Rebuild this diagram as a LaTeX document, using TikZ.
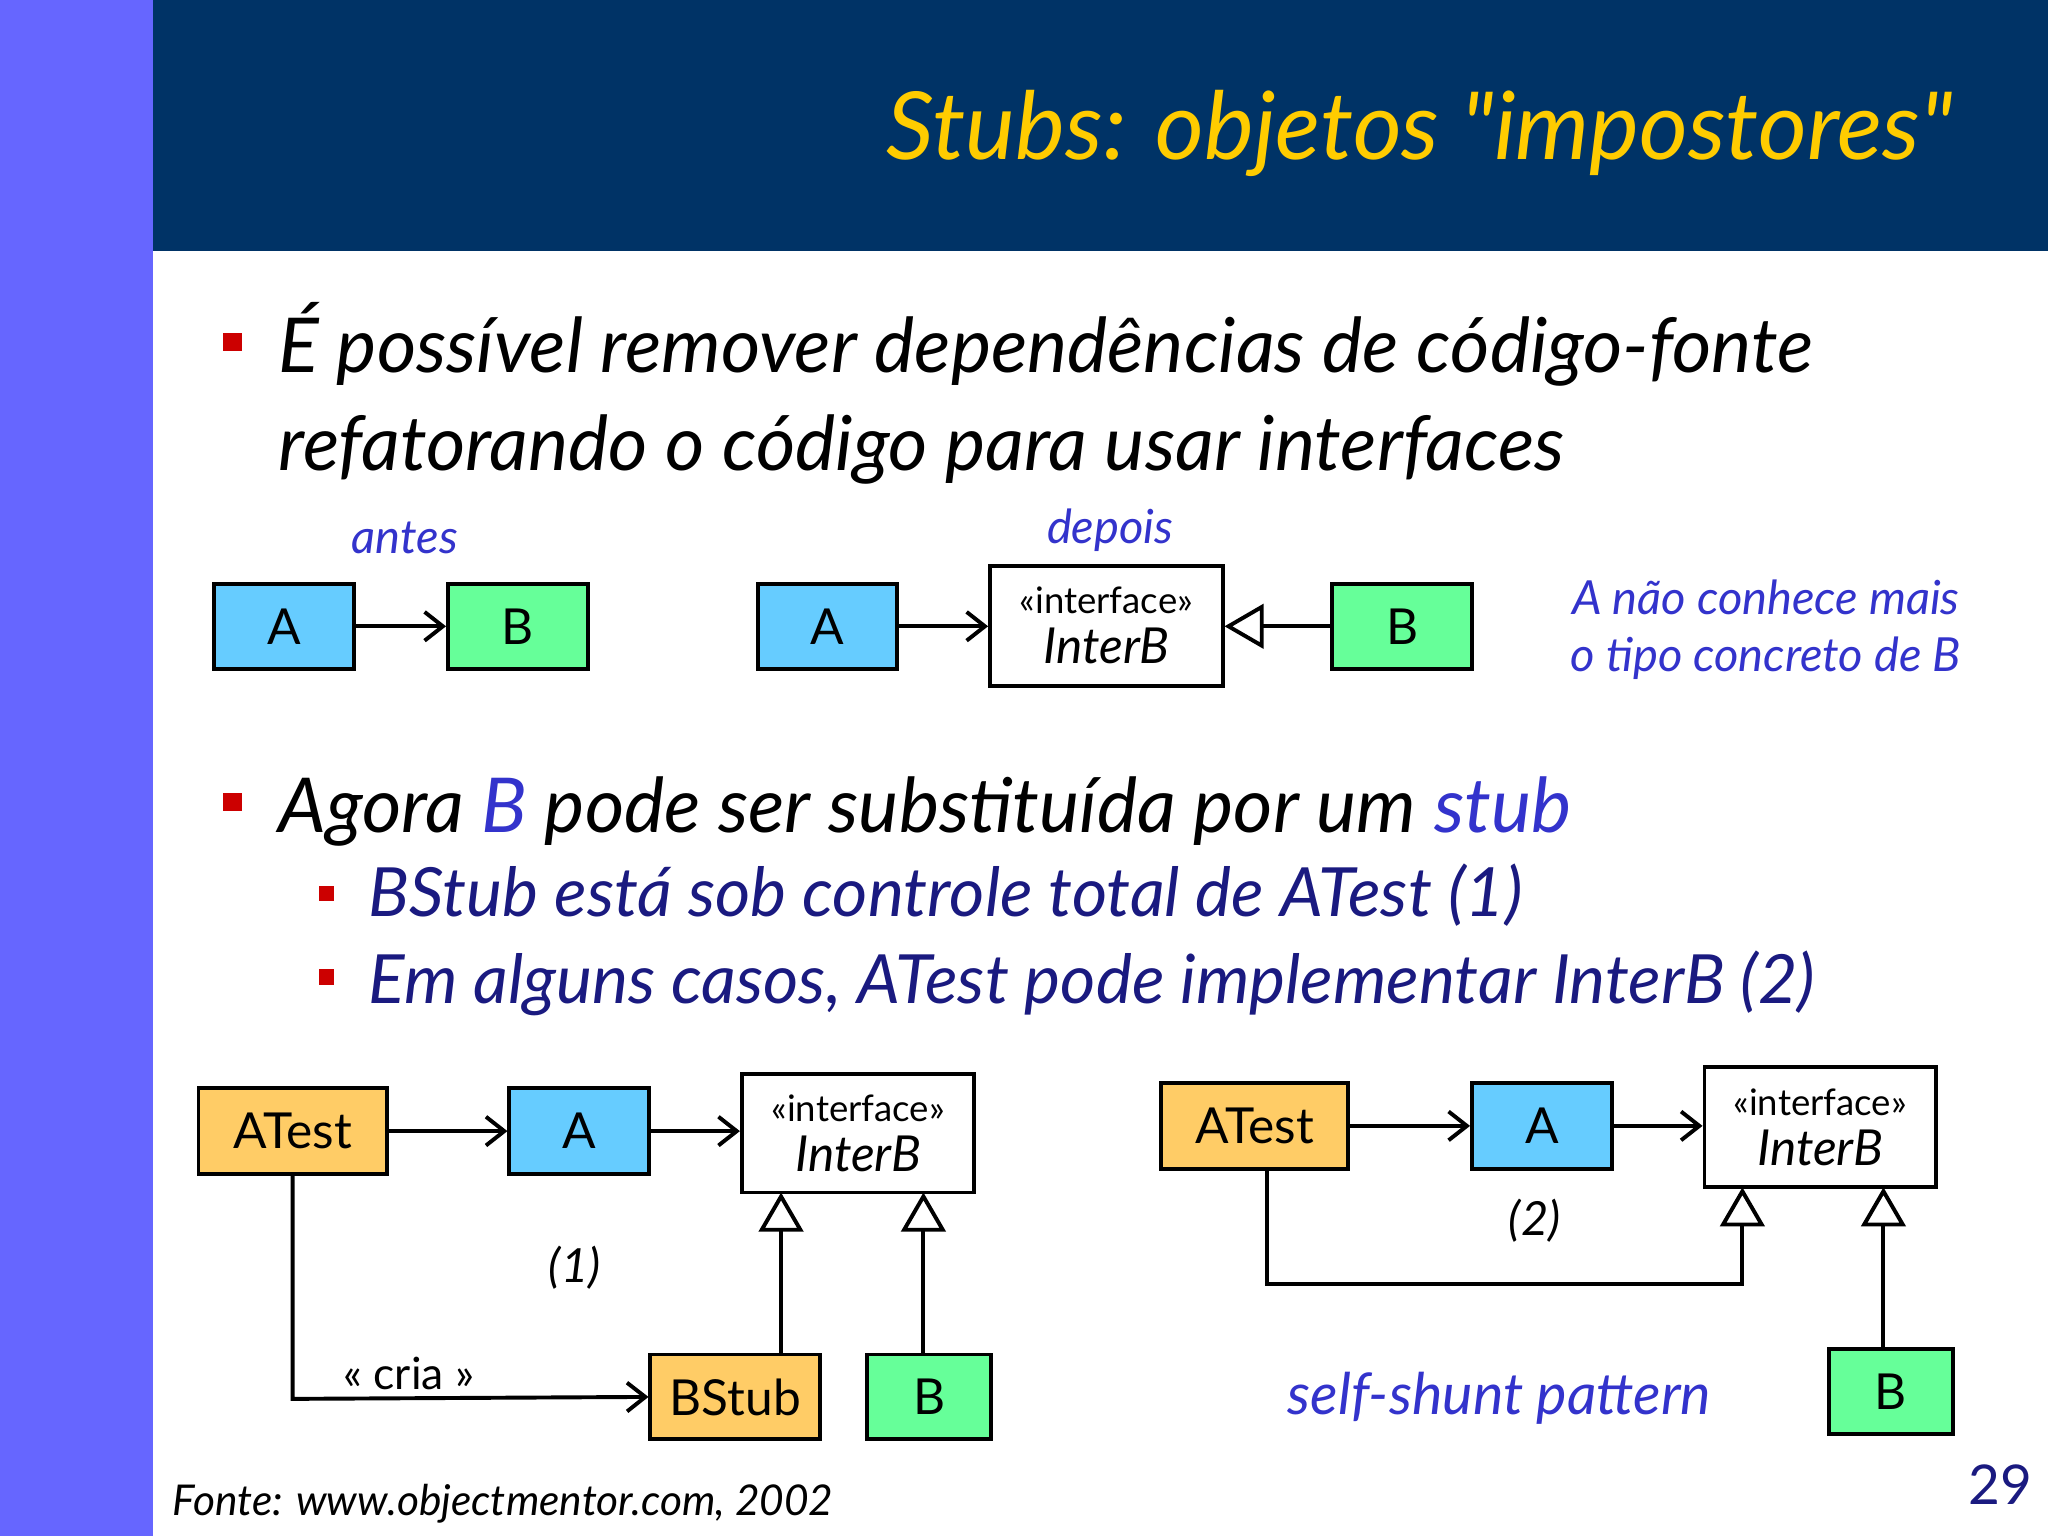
\documentclass[tikz,border=0pt]{standalone}
\usepackage{fontspec}
\setmainfont{Lato}
\usetikzlibrary{arrows.meta}
\definecolor{hdr}{HTML}{003366}
\definecolor{band}{HTML}{6666FF}
\definecolor{ttl}{HTML}{FFCC00}
\definecolor{lblue}{HTML}{3333CC}
\definecolor{dblue}{HTML}{1A1A80}
\definecolor{cA}{HTML}{66CCFF}
\definecolor{cB}{HTML}{66FF99}
\definecolor{cT}{HTML}{FFCC66}
\definecolor{bred}{HTML}{CC0000}
\begin{document}
\begin{tikzpicture}[x=1pt,y=-1pt,
  box/.style={draw=black,line width=3pt,inner sep=0pt,font=\fontsize{38}{40}\selectfont},
  ifc/.style={box,fill=white,align=center,font=\fontsize{28}{30}\selectfont},
  conn/.style={line width=3pt,-{Straight Barb[length=14pt,width=22pt,line width=3pt]}},
  real/.style={line width=3pt,-{Triangle[open,length=30pt,width=34pt,line width=3pt,fill=white]}},
  bul/.style={fill=bred,minimum size=14pt,inner sep=0pt},
  bt/.style={anchor=base west,inner sep=0pt,font=\fontsize{58}{60}\selectfont\itshape},
  st/.style={anchor=base west,inner sep=0pt,text=dblue,font=\fontsize{52}{56}\selectfont\itshape},
  note/.style={text=lblue,inner sep=0pt,font=\fontsize{36}{40}\selectfont\itshape}]
\useasboundingbox (0,0) rectangle (1568,1176);
\fill[white] (0,0) rectangle (1568,1176);
\fill[band] (0,0) rectangle (117,1176);
\fill[hdr] (117,0) rectangle (1568,192);
\node[anchor=base east,inner sep=0pt,text=ttl,font=\fontsize{72}{80}\selectfont\itshape] (title) at (1495,122) {Stubs: objetos \textquotedbl impostores\textquotedbl};
% bullet 1
\node[bul] (b1) at (178,262) {};
\node[bt] (t1) at (213,285) {É possível remover dependências de código-fonte};
\node[bt] (t1b) at (213,360) {refatorando o código para usar interfaces};
% antes
\node[note,anchor=base] (antes) at (310,424) {antes};
\node[box,fill=cA,minimum width=107pt,minimum height=65pt] (a1) at (217.5,479.5) {A};
\node[box,fill=cB,minimum width=107pt,minimum height=65pt] (b1b) at (396.5,479.5) {B};
\draw[conn] (a1) -- (b1b);
% depois
\node[note,anchor=base] (depois) at (850,416) {depois};
\node[box,fill=cA,minimum width=107pt,minimum height=65pt] (a2) at (633.5,479.5) {A};
\node[ifc,minimum width=178pt,minimum height=92pt] (i2) at (847,479) {«interface»\\[8pt]{\fontsize{38}{40}\selectfont\itshape InterB}};
\node[box,fill=cB,minimum width=107pt,minimum height=65pt] (b2) at (1073.5,479.5) {B};
\draw[conn] (a2.east) -- (i2.west|-a2.east);
\draw[real] (b2.west) -- (i2.east|-b2.west);
\node[note,align=center] (nc) at (1352,482) {A não conhece mais\\[4pt]o tipo concreto de B};
% bullet 2
\node[bul] (b2s) at (178,614) {};
\node[bt] (t2) at (213,637) {Agora {\color{lblue}B} pode ser substituída por um {\color{lblue}stub}};
\node[bul,minimum size=12pt] (s1) at (250,684) {};
\node[st] (st1) at (282,702) {BStub está sob controle total de ATest (1)};
\node[bul,minimum size=12pt] (s2) at (250,748) {};
\node[st] (st2) at (282,768) {Em alguns casos, ATest pode implementar InterB (2)};
% lower left
\node[box,fill=cT,minimum width=144pt,minimum height=66pt] (at1) at (224,866) {ATest};
\node[box,fill=cA,minimum width=107pt,minimum height=66pt] (a3) at (443.5,866) {A};
\node[ifc,minimum width=178pt,minimum height=91pt] (i3) at (657,867.5) {«interface»\\[8pt]{\fontsize{38}{40}\selectfont\itshape InterB}};
\node[box,fill=cT,minimum width=130pt,minimum height=65pt] (bs) at (563,1069.5) {BStub};
\node[box,fill=cB,minimum width=95pt,minimum height=65pt] (b3) at (711.5,1069.5) {B};
\draw[conn] (at1) -- (a3);
\draw[conn] (a3.east) -- (i3.west|-a3.east);
\coordinate (c1) at (224,1071);
\draw[conn] (at1.south) -- (c1) -- (bs.west);
\node[anchor=base,inner sep=0pt,font=\fontsize{34}{38}\selectfont] (cria) at (313,1064) {« cria »};
\node[anchor=base,inner sep=0pt,font=\fontsize{36}{38}\selectfont\itshape] (l1) at (440,982) {(1)};
\draw[real] (bs.north-|598,0) -- (598,913);
\draw[real] (b3.north-|707,0) -- (707,913);
% lower right
\node[box,fill=cT,minimum width=143pt,minimum height=66pt] (at2) at (960.5,862) {ATest};
\node[box,fill=cA,minimum width=107pt,minimum height=66pt] (a4) at (1180.5,862) {A};
\node[ifc,minimum width=177pt,minimum height=92pt] (i4) at (1393.5,863) {«interface»\\[8pt]{\fontsize{38}{40}\selectfont\itshape InterB}};
\node[box,fill=cB,minimum width=95pt,minimum height=65pt] (b4) at (1447.5,1065.5) {B};
\draw[conn] (at2) -- (a4);
\draw[conn] (a4.east) -- (i4.west|-a4.east);
\coordinate (c2) at (970,983);
\coordinate (c3) at (1334,983);
\draw[real] (at2.south-|970,0) -- (c2) -- (c3) -- (1334,909);
\draw[real] (b4.north-|1442,0) -- (1442,909);
\node[anchor=base,inner sep=0pt,font=\fontsize{36}{38}\selectfont\itshape] (l2) at (1175,946) {(2)};
\node[note,anchor=base,font=\fontsize{44}{46}\selectfont\itshape] (ss) at (1148,1083) {self-shunt pattern};
% footer
\node[anchor=base west,inner sep=0pt,font=\fontsize{32.5}{34}\selectfont\itshape] (src) at (132,1160) {Fonte: www.objectmentor.com, 2002};
\node[anchor=base east,inner sep=0pt,text=dblue,font=\fontsize{42}{44}\selectfont] (pg) at (1556,1152) {29};
\end{tikzpicture}
\end{document}
